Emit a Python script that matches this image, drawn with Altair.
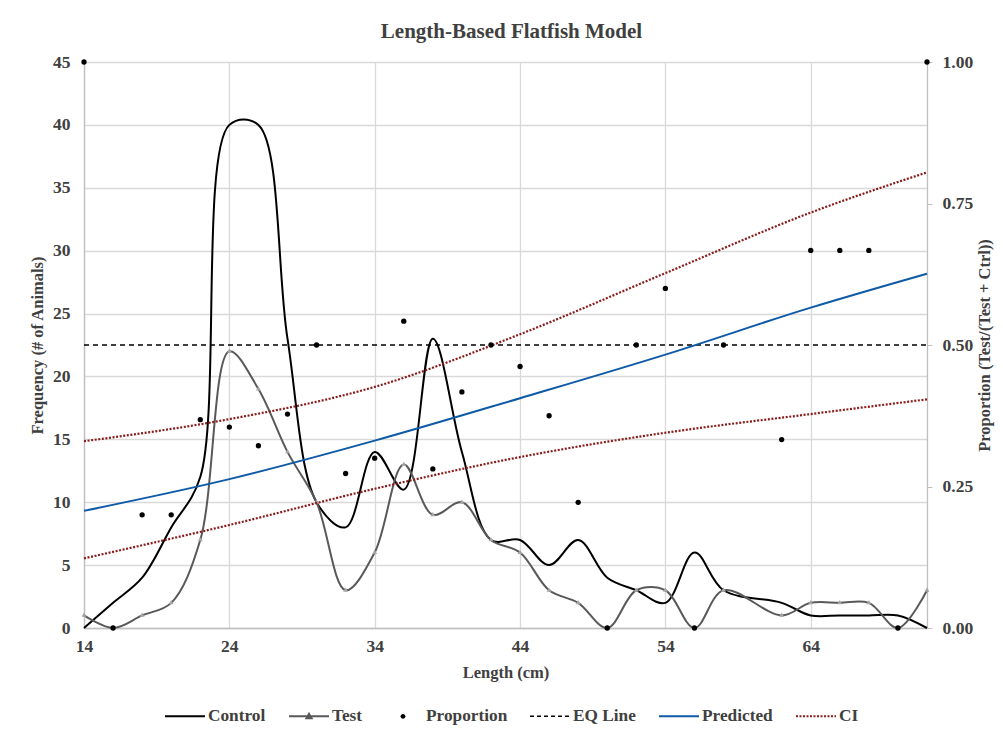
import altair as alt
import pandas as pd

# ---------------- data ----------------
lengths = [14, 16, 18, 20, 22, 24, 26, 28, 30, 32, 34, 36, 38, 40, 42, 44, 46, 48,
           50, 52, 54, 56, 58, 62, 64, 66, 68, 70, 72]
control = [0, 2, 4, 8, 12, 40, 40, 23, 10, 8, 14, 11, 23, 14, 7, 7, 5, 7,
           4, 3, 2, 6, 3, 2, 1, 1, 1, 1, 0]
test = [1, 0, 1, 2, 7, 22, 19, 14, 10, 3, 6, 13, 9, 10, 7, 6, 3, 2,
        0, 3, 3, 0, 3, 1, 2, 2, 2, 0, 3]
proportion = [1.00, 0.00, 0.20, 0.20, 0.368, 0.355, 0.322, 0.378, 0.50, 0.273, 0.30, 0.542,
              0.281, 0.417, 0.50, 0.462, 0.375, 0.222, 0.00, 0.50, 0.60, 0.00, 0.50, 0.333,
              0.667, 0.667, 0.667, 0.00, 1.00]

model_x = [14, 24, 34, 44, 54, 64, 72]
predicted = [0.207, 0.263, 0.331, 0.406, 0.483, 0.566, 0.626]
ci_upper = [0.330, 0.369, 0.426, 0.519, 0.627, 0.734, 0.805]
ci_lower = [0.123, 0.182, 0.246, 0.302, 0.345, 0.378, 0.404]

eq_x = [14, 72]
eq_y = [0.5, 0.5]

series_names = ["Control", "Test", "Proportion", "EQ Line", "Predicted", "CI"]
series_colors = ["#000000", "#595959", "#000000", "#000000", "#0E5AA7", "#8B1A1A"]

x_ticks = [14, 24, 34, 44, 54, 64]
left_ticks = [0, 5, 10, 15, 20, 25, 30, 35, 40, 45]
right_ticks = [0, 0.25, 0.5, 0.75, 1.0]

# ---------------- tables ----------------
df_ctrl = pd.DataFrame({"length": lengths, "value": control, "series": "Control"})
df_test = pd.DataFrame({"length": lengths, "value": test, "series": "Test"})
df_prop = pd.DataFrame({"length": lengths, "value": proportion, "series": "Proportion"})
df_eq = pd.DataFrame({"length": eq_x, "value": eq_y, "series": "EQ Line"})
df_pred = pd.DataFrame({"length": model_x, "value": predicted, "series": "Predicted"})
df_ci = pd.concat([
    pd.DataFrame({"length": model_x, "value": ci_upper, "series": "CI", "part": "upper"}),
    pd.DataFrame({"length": model_x, "value": ci_lower, "series": "CI", "part": "lower"}),
])

FONT = "Liberation Serif"
TXT = "#404040"
GRID = "#d9d9d9"
AXIS = "#bfbfbf"

color_scale = alt.Scale(domain=series_names, range=series_colors)

x_enc = alt.X("length:Q",
              scale=alt.Scale(domain=[14, 72], nice=False, zero=False),
              title="Length (cm)",
              axis=alt.Axis(values=x_ticks, grid=True, ticks=False, title="Length (cm)",
                            labelFlush=False, labelPadding=9, titlePadding=10))

y_left = alt.Y("value:Q",
               scale=alt.Scale(domain=[0, 45], nice=False),
               title="Frequency (# of Animals)",
               axis=alt.Axis(orient="left", values=left_ticks, grid=True, ticks=False,
                             title="Frequency (# of Animals)", labelPadding=14, titlePadding=7))
y_right = alt.Y("value:Q",
                scale=alt.Scale(domain=[0, 1], nice=False),
                title="Proportion (Test/(Test + Ctrl))",
                axis=alt.Axis(orient="right", values=right_ticks, format=".2f", grid=False,
                              ticks=True, tickSize=5, tickColor=AXIS,
                              title="Proportion (Test/(Test + Ctrl))", titleAngle=270,
                              titleBaseline="top",
                              labelPadding=10, titlePadding=4))

legend = alt.Legend(
    title=None, orient="none", direction="horizontal", legendX=80, legendY=633,
    padding=0, columnPadding=19, labelOffset=2,
    labelFont=FONT, labelFontSize=17.3, labelFontWeight="bold", labelColor=TXT,
    symbolSize=1600,
    symbolType=alt.ExprRef(expr=(
        "(datum.value === 'Proportion' ? 'M0.12,0A0.12,0.12,0,1,1,-0.12,0A0.12,0.12,0,1,1,0.12,0Z'"
        " : datum.value === 'Test' ? 'M-1,0L1,0M0,-0.13L0.13,0.1L-0.13,0.1Z' : 'stroke')")),
    symbolDash=alt.ExprRef(expr=(
        "(datum.value === 'EQ Line' ? [4, 3] : datum.value === 'CI' ? [2, 1.5] : [1, 0])")),
    symbolFillColor=alt.ExprRef(expr=(
        "(datum.value === 'Proportion' ? '#000000' : datum.value === 'Test' ? '#a6a6a6' : 'transparent')")),
    symbolStrokeWidth=alt.ExprRef(expr=(
        "(datum.value === 'Proportion' ? 0 : datum.value === 'EQ Line' ? 1.5 : 2)")),
)

ctrl = alt.Chart(df_ctrl).mark_line(interpolate="catmull-rom", strokeWidth=2).encode(
    x=x_enc, y=y_left,
    color=alt.Color("series:N", scale=color_scale, legend=legend),
)
test_line = alt.Chart(df_test).mark_line(interpolate="catmull-rom", strokeWidth=2).encode(
    x=x_enc, y=y_left,
    color=alt.Color("series:N", scale=color_scale, legend=None),
)
test_pts = alt.Chart(df_test).mark_point(shape="triangle", filled=True, size=24,
                                         color="#a6a6a6", opacity=1).encode(
    x=x_enc, y=y_left,
)
left = alt.layer(ctrl, test_line, test_pts)

eq = alt.Chart(df_eq).mark_line(strokeDash=[5, 4], strokeWidth=1.5).encode(
    x=x_enc, y=y_right,
    color=alt.Color("series:N", scale=color_scale, legend=None),
)
pred = alt.Chart(df_pred).mark_line(interpolate="monotone", strokeWidth=2).encode(
    x=x_enc, y=y_right,
    color=alt.Color("series:N", scale=color_scale, legend=None),
)
ci = alt.Chart(df_ci).mark_line(interpolate="monotone", strokeWidth=2.2, strokeDash=[2, 1.6]).encode(
    x=x_enc, y=y_right, detail="part:N",
    color=alt.Color("series:N", scale=color_scale, legend=None),
)
prop = alt.Chart(df_prop).mark_circle(size=28, opacity=1).encode(
    x=x_enc, y=y_right,
    color=alt.Color("series:N", scale=color_scale, legend=None),
)
right = alt.layer(eq, pred, ci, prop)

chart = alt.layer(left, right).resolve_scale(y="independent").properties(
    width=843, height=566,
    background="white",
    title=alt.TitleParams("Length-Based Flatfish Model", font=FONT, fontSize=21,
                          fontWeight="bold", color=TXT, anchor="middle", offset=11, dx=6),
    autosize=alt.AutoSizeParams(type="none"),
    padding={"left": 76, "top": 54, "right": 68, "bottom": 97},
).configure_view(stroke=None).configure_axis(
    labelFont=FONT, labelFontSize=17.5, labelFontWeight="bold", labelColor=TXT,
    titleFont=FONT, titleFontSize=16.5, titleFontWeight="bold", titleColor=TXT,
    gridColor=GRID, gridWidth=1.3, domainColor=AXIS, domainWidth=1.3,
)

chart.save("out.html", embed_options={"renderer": "svg", "actions": False})
